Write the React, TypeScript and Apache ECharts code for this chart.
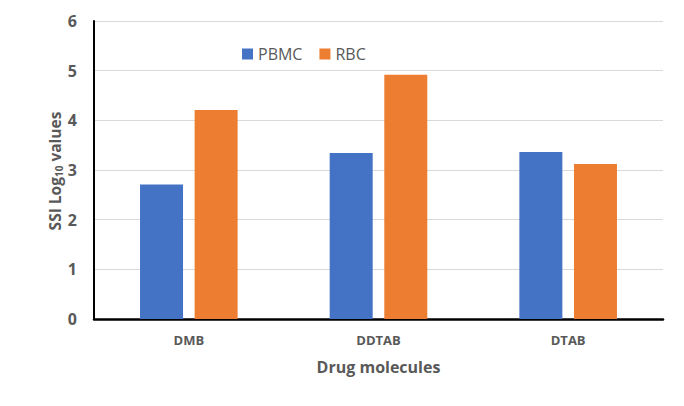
import React, { useEffect, useRef } from "react";
import * as echarts from "echarts";

const categories = ["DMB", "DDTAB", "DTAB"];
const pbmcValues = [2.71, 3.34, 3.36];
const rbcValues = [4.21, 4.92, 3.12];
const seriesNames = ["PBMC", "RBC"];

const FONT = "'Open Sans', 'Liberation Sans', sans-serif";
const GREY = "#595959";

export default function App() {
  const ref = useRef<HTMLDivElement>(null);
  useEffect(() => {
    if (!ref.current) return;
    const chart = echarts.init(ref.current, null, { renderer: "svg" });
    chart.setOption({
      animation: false,
      backgroundColor: "#ffffff",
      textStyle: { fontFamily: FONT },
      legend: {
        data: seriesNames,
        top: 41,
        left: 237,
        itemWidth: 11,
        itemHeight: 11,
        itemGap: 17,
        icon: "rect",
        textStyle: { color: GREY, fontSize: 16, fontFamily: FONT },
      },
      grid: { left: 94, right: 21, top: 21, bottom: 87 },
      graphic: [
        {
          type: "text",
          x: 55,
          y: 171,
          rotation: Math.PI / 2,
          style: {
            text: "{a|SSI Log}{sub|10}{a| values}",
            align: "center",
            verticalAlign: "middle",
            fill: GREY,
            fontFamily: FONT,
            rich: {
              a: { fill: GREY, fontSize: 15.5, fontWeight: "bold", fontFamily: FONT },
              sub: { fill: GREY, fontSize: 10, fontWeight: "bold", fontFamily: FONT, padding: [8, 0, 0, 0] },
            },
          },
        },
      ],
      xAxis: {
        type: "category",
        data: categories,
        name: "Drug molecules",
        nameLocation: "middle",
        nameGap: 40,
        nameTextStyle: { color: GREY, fontSize: 16, fontWeight: "bold", fontFamily: FONT },
        axisLine: { lineStyle: { color: "#000", width: 2.5 } },
        axisTick: { show: false },
        axisLabel: { color: GREY, fontSize: 13, fontWeight: "bold", margin: 14, fontFamily: FONT },
      },
      yAxis: {
        type: "value",
        min: 0,
        max: 6,
        interval: 1,
        axisLine: { show: true, lineStyle: { color: "#000", width: 2 } },
        axisTick: { show: false },
        axisLabel: { color: GREY, fontSize: 16, fontWeight: "bold", margin: 17, fontFamily: FONT },
        splitLine: { lineStyle: { color: "#d9d9d9", width: 1 } },
      },
      series: [
        {
          name: seriesNames[0],
          type: "bar",
          data: pbmcValues,
          barWidth: 43,
          barGap: "27%",
          itemStyle: { color: "#4472c4" },
        },
        {
          name: seriesNames[1],
          type: "bar",
          data: rbcValues,
          barWidth: 43,
          barGap: "27%",
          itemStyle: { color: "#ed7d31" },
        },
      ],
    });
    return () => chart.dispose();
  }, []);
  return <div ref={ref} style={{ width: 684, height: 406, margin: -8 }} />;
}
